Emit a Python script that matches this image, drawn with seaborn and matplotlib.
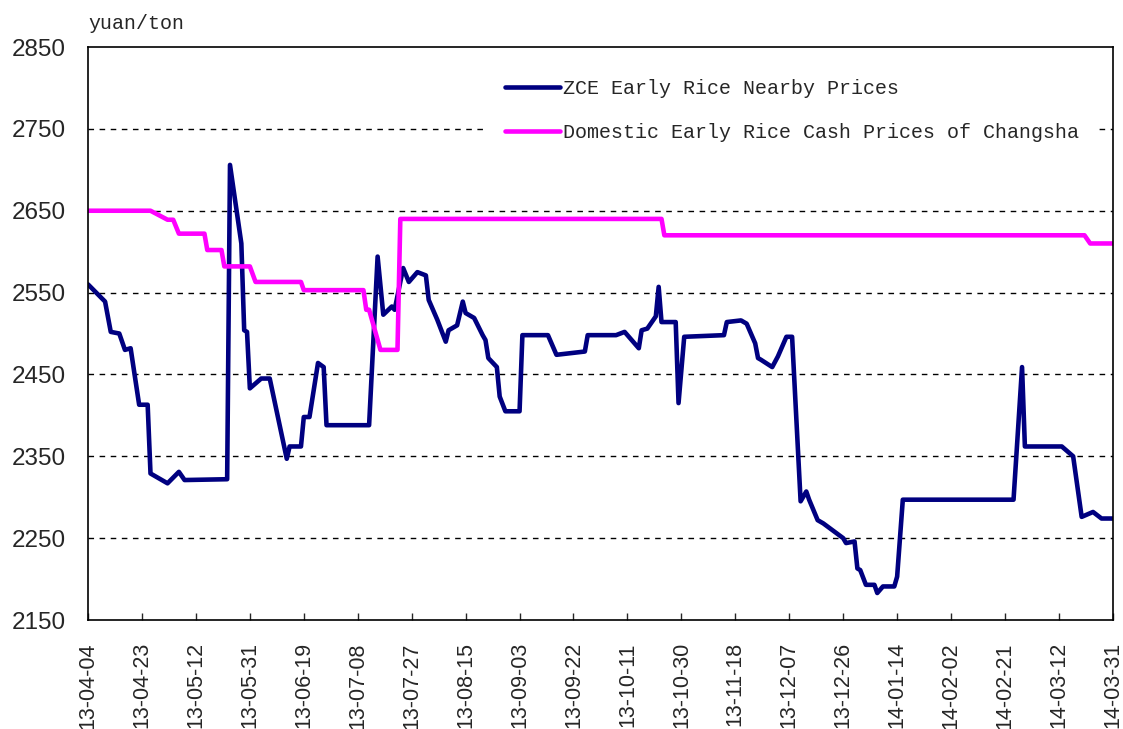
import pandas as pd
import numpy as np
import matplotlib
matplotlib.use("Agg")
import matplotlib.pyplot as plt
import matplotlib.dates as mdates
import seaborn as sns

# ZCE early rice nearby prices (yuan/ton)
zce_dates = ["2013-04-04", "2013-04-10", "2013-04-12", "2013-04-15", "2013-04-17", "2013-04-19",
             "2013-04-22", "2013-04-25", "2013-04-26", "2013-05-02", "2013-05-06", "2013-05-08",
             "2013-05-23", "2013-05-24", "2013-05-28", "2013-05-29", "2013-05-30", "2013-05-31",
             "2013-06-04", "2013-06-07", "2013-06-13", "2013-06-14", "2013-06-18", "2013-06-19",
             "2013-06-21", "2013-06-24", "2013-06-26", "2013-06-27", "2013-07-12", "2013-07-15",
             "2013-07-17", "2013-07-20", "2013-07-21", "2013-07-24", "2013-07-26", "2013-07-29",
             "2013-08-01", "2013-08-02", "2013-08-05", "2013-08-08", "2013-08-09", "2013-08-12",
             "2013-08-14", "2013-08-15", "2013-08-18", "2013-08-21", "2013-08-22", "2013-08-23",
             "2013-08-26", "2013-08-27", "2013-08-29", "2013-09-03", "2013-09-04", "2013-09-13",
             "2013-09-16", "2013-09-26", "2013-09-27", "2013-10-07", "2013-10-10", "2013-10-15",
             "2013-10-16", "2013-10-18", "2013-10-21", "2013-10-22", "2013-10-23", "2013-10-28",
             "2013-10-29", "2013-10-31", "2013-11-14", "2013-11-15", "2013-11-20", "2013-11-22",
             "2013-11-25", "2013-11-26", "2013-11-27", "2013-12-01", "2013-12-03", "2013-12-06",
             "2013-12-08", "2013-12-11", "2013-12-13", "2013-12-14", "2013-12-17", "2013-12-19",
             "2013-12-26", "2013-12-27", "2013-12-30", "2013-12-31", "2014-01-01", "2014-01-03",
             "2014-01-06", "2014-01-07", "2014-01-09", "2014-01-13", "2014-01-14", "2014-01-16",
             "2014-02-24", "2014-02-27", "2014-02-28", "2014-03-13", "2014-03-17", "2014-03-20",
             "2014-03-24", "2014-03-27", "2014-03-31"]
zce_prices = [2560, 2539, 2502, 2500, 2480, 2482,
              2413, 2413, 2329, 2317, 2331, 2321,
              2322, 2706, 2610, 2504, 2502, 2433,
              2445, 2445, 2347, 2362, 2362, 2398,
              2398, 2464, 2459, 2388, 2388, 2594,
              2523, 2533, 2529, 2580, 2563, 2575,
              2571, 2541, 2517, 2490, 2504, 2510,
              2539, 2525, 2519, 2498, 2492, 2470,
              2459, 2423, 2405, 2405, 2498, 2498,
              2474, 2478, 2498, 2498, 2502, 2482,
              2504, 2506, 2521, 2557, 2514, 2514,
              2415, 2496, 2498, 2514, 2516, 2512,
              2488, 2470, 2468, 2459, 2472, 2496,
              2496, 2295, 2307, 2297, 2272, 2268,
              2250, 2244, 2246, 2213, 2211, 2193,
              2193, 2183, 2191, 2191, 2203, 2297,
              2297, 2459, 2362, 2362, 2350, 2276,
              2282, 2274, 2274]

# Changsha early rice cash prices (yuan/ton)
cash_dates = ["2013-04-04", "2013-04-26", "2013-05-02", "2013-05-04", "2013-05-06", "2013-05-15",
              "2013-05-16", "2013-05-21", "2013-05-22", "2013-05-31", "2013-06-02", "2013-06-18",
              "2013-06-19", "2013-07-10", "2013-07-11", "2013-07-12", "2013-07-16", "2013-07-22",
              "2013-07-23", "2013-10-23", "2013-10-24", "2014-03-21", "2014-03-23", "2014-03-31"]
cash_prices = [2650, 2650, 2639, 2639, 2622, 2622,
               2602, 2602, 2582, 2582, 2563, 2563,
               2553, 2553, 2529, 2529, 2480, 2480,
               2640, 2640, 2620, 2620, 2610, 2610]

series_names = ["ZCE Early Rice Nearby Prices",
                "Domestic Early Rice Cash Prices of Changsha"]
series_colors = ["#000080", "#FF00FF"]

tick_dates = ["2013-04-04", "2013-04-23", "2013-05-12", "2013-05-31", "2013-06-19", "2013-07-08",
              "2013-07-27", "2013-08-15", "2013-09-03", "2013-09-22", "2013-10-11", "2013-10-30",
              "2013-11-18", "2013-12-07", "2013-12-26", "2014-01-14", "2014-02-02", "2014-02-21",
              "2014-03-12", "2014-03-31"]
y_ticks = [2150, 2250, 2350, 2450, 2550, 2650, 2750, 2850]

df = pd.concat([
    pd.DataFrame({"date": pd.to_datetime(zce_dates), "price": zce_prices, "series": series_names[0]}),
    pd.DataFrame({"date": pd.to_datetime(cash_dates), "price": cash_prices, "series": series_names[1]}),
])

sns.set_style("white")
plt.rcParams["font.family"] = ["Liberation Sans", "DejaVu Sans"]

fig = plt.figure(figsize=(11.23, 7.29), dpi=100)
ax = fig.add_axes([0.0784, 0.1495, 0.9126, 0.786])

sns.lineplot(data=df, x="date", y="price", hue="series", palette=series_colors,
             estimator=None, sort=True, linewidth=3.3, ax=ax)

ax.set_xlim(pd.Timestamp(tick_dates[0]), pd.Timestamp(tick_dates[-1]))
ax.set_ylim(2150, 2850)
ax.set_xticks(pd.to_datetime(tick_dates))
ax.xaxis.set_major_formatter(mdates.DateFormatter("%y-%m-%d"))
ax.set_yticks(y_ticks)
ax.set_xlabel("")
ax.set_ylabel("")

# dashed horizontal guides
for y in y_ticks[1:-1]:
    ax.axhline(y, color="black", linestyle=(0, (4, 4)), linewidth=1.0, zorder=0)

for s in ax.spines.values():
    s.set_color("black")
    s.set_linewidth(1.2)

ax.tick_params(axis="x", direction="in", length=5, width=1, pad=16,
               labelsize=15.5, rotation=90, bottom=True)
ax.tick_params(axis="y", length=0, pad=16, labelsize=17.5)

mono = ["Liberation Mono", "DejaVu Sans Mono"]
handles, labels = ax.get_legend_handles_labels()
leg = ax.legend(handles, labels, loc="upper left", bbox_to_anchor=(0.423, 0.933),
                bbox_transform=fig.transFigure, frameon=True, borderpad=1.0,
                handlelength=2.75, handletextpad=0.15, labelspacing=1.27,
                fancybox=False, framealpha=1.0,
                prop={"family": mono, "size": 14.4})
leg.get_frame().set_facecolor("white")
leg.get_frame().set_edgecolor("none")

fig.text(0.0784, 0.968, "yuan/ton", family=mono, fontsize=14.4, ha="left", va="center")

fig.savefig("out.png", dpi=100)
